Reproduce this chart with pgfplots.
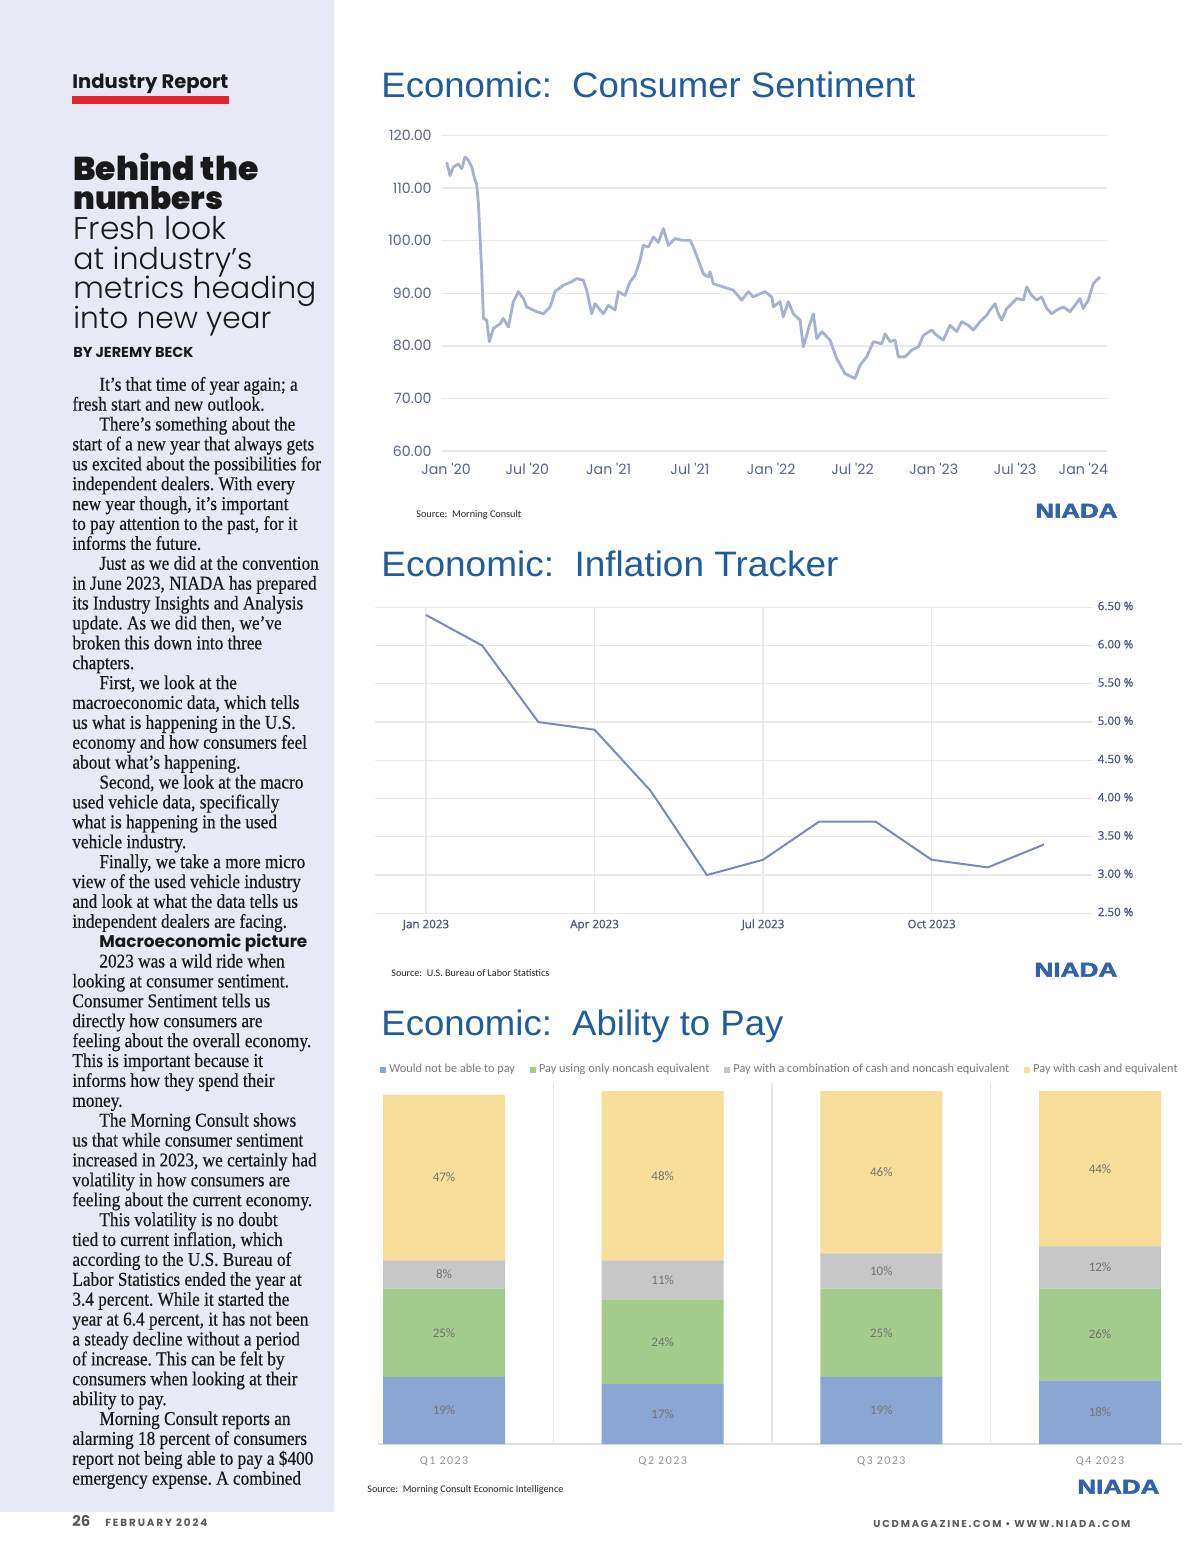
\documentclass[border=0pt]{standalone}
\usepackage{fontspec}
\usepackage{graphicx}
\usepackage{pgfplots}
\pgfplotsset{compat=1.18}

\setmainfont{Liberation Serif}
\newfontfamily\bodyfont{Liberation Serif}[FakeStretch=0.88, FakeBold=0.4]
\newfontfamily\pop{Poppins}
\newfontfamily\popblack{Poppins Black}
\newfontfamily\poplight{Poppins Light}
\newfontfamily\popsp{Poppins}[LetterSpace=18]
\newfontfamily\lsans{Liberation Sans}
\newfontfamily\niadafont{Liberation Sans}[BoldFeatures={FakeBold=2.5}]
\newfontfamily\carl{Carlito}
\newfontfamily\carlsp{Carlito}[LetterSpace=12]
\newfontfamily\opens{Open Sans}[FakeBold=0.6]

\definecolor{panel}{RGB}{231,234,244}
\definecolor{titleblue}{RGB}{31,92,155}
\definecolor{niada}{RGB}{50,98,170}
\definecolor{redbar}{RGB}{226,35,45}
\definecolor{sentline}{RGB}{166,177,207}
\definecolor{inflline}{RGB}{122,138,180}
\definecolor{ticktxt}{RGB}{88,102,138}
\definecolor{ticktxtb}{RGB}{70,84,118}
\definecolor{gridc}{RGB}{234,234,237}
\definecolor{cblue}{RGB}{137,167,210}
\definecolor{cgreen}{RGB}{163,204,141}
\definecolor{cgray}{RGB}{199,199,199}
\definecolor{cyellow}{RGB}{248,222,152}
\definecolor{bodytxt}{RGB}{25,25,25}
\definecolor{foot}{RGB}{90,90,90}

\begin{document}
\frenchspacing
\begin{tikzpicture}
\fill[white] (0,0) rectangle (600pt,-779pt);
\path[use as bounding box] (0,0) rectangle (600pt,-779pt);

% left column
\fill[panel] (0,0) rectangle (167pt,-756pt);
\node[anchor=base west,inner sep=0pt,text=bodytxt] at (36pt,-44.5pt) {\resizebox{78pt}{!}{\pop\bfseries Industry Report}};
\fill[redbar] (36pt,-48pt) rectangle (114.5pt,-52pt);
\node[anchor=base west,inner sep=0pt,text=bodytxt] at (36.5pt,-90pt) {\resizebox{92.5pt}{!}{\popblack Behind the}};
\node[anchor=base west,inner sep=0pt,text=bodytxt] at (36.5pt,-104.5pt) {\resizebox{75pt}{!}{\popblack numbers}};
\node[anchor=base west,inner sep=0pt,text=bodytxt] at (36.5pt,-119.5pt) {\resizebox{76.5pt}{!}{\poplight Fresh look}};
\node[anchor=base west,inner sep=0pt,text=bodytxt] at (36.5pt,-134.5pt) {\resizebox{89.5pt}{!}{\poplight at industry’s}};
\node[anchor=base west,inner sep=0pt,text=bodytxt] at (36.5pt,-149pt) {\resizebox{121.5pt}{!}{\poplight metrics heading}};
\node[anchor=base west,inner sep=0pt,text=bodytxt] at (36.5pt,-164pt) {\resizebox{99pt}{!}{\poplight into new year}};
\node[anchor=base west,inner sep=0pt,text=bodytxt] at (36.5pt,-178.5pt) {\resizebox{60pt}{!}{\pop\bfseries BY JEREMY BECK}};

\foreach \ind/\t [count=\i] in {
1/{It’s that time of year again; a},
0/{fresh start and new outlook.},
1/{There’s something about the},
0/{start of a new year that always gets},
0/{us excited about the possibilities for},
0/{independent dealers. With every},
0/{new year though, it’s important},
0/{to pay attention to the past, for it},
0/{informs the future.},
1/{Just as we did at the convention},
0/{in June 2023, NIADA has prepared},
0/{its Industry Insights and Analysis},
0/{update. As we did then, we’ve},
0/{broken this down into three},
0/{chapters.},
1/{First, we look at the},
0/{macroeconomic data, which tells},
0/{us what is happening in the U.S.},
0/{economy and how consumers feel},
0/{about what’s happening.},
1/{Second, we look at the macro},
0/{used vehicle data, specifically},
0/{what is happening in the used},
0/{vehicle industry.},
1/{Finally, we take a more micro},
0/{view of the used vehicle industry},
0/{and look at what the data tells us},
0/{independent dealers are facing.},
1/{\resizebox{104pt}{!}{\pop\bfseries Macroeconomic picture}},
1/{2023 was a wild ride when},
0/{looking at consumer sentiment.},
0/{Consumer Sentiment tells us},
0/{directly how consumers are},
0/{feeling about the overall economy.},
0/{This is important because it},
0/{informs how they spend their},
0/{money.},
1/{The Morning Consult shows},
0/{us that while consumer sentiment},
0/{increased in 2023, we certainly had},
0/{volatility in how consumers are},
0/{feeling about the current economy.},
1/{This volatility is no doubt},
0/{tied to current inflation, which},
0/{according to the U.S. Bureau of},
0/{Labor Statistics ended the year at},
0/{3.4 percent. While it started the},
0/{year at 6.4 percent, it has not been},
0/{a steady decline without a period},
0/{of increase. This can be felt by},
0/{consumers when looking at their},
0/{ability to pay.},
1/{Morning Consult reports an},
0/{alarming 18 percent of consumers},
0/{report not being able to pay a \$400},
0/{emergency expense. A combined}}
{\node[anchor=base west,inner sep=0pt,text=bodytxt,font=\bodyfont\fontsize{9.8}{10}\selectfont\frenchspacing]
   at ({36pt+13.5pt*\ind},{-195.35pt-9.945pt*(\i-1)}) {\t};}

% footers
\node[anchor=base west,inner sep=0pt,text=foot] at (36pt,-763pt) {\resizebox{9pt}{!}{\pop\bfseries 26}};
\node[anchor=base west,inner sep=0pt,text=foot] at (52.5pt,-763pt) {\resizebox{51pt}{!}{\popsp\bfseries FEBRUARY 2024}};
\node[anchor=base west,inner sep=0pt,text=foot] at (436.5pt,-763.5pt) {\resizebox{128.5pt}{!}{\popsp\bfseries UCDMAGAZINE.COM • WWW.NIADA.COM}};

% chart titles, sources, logos
\node[anchor=base west,inner sep=0pt,text=titleblue] at (190.5pt,-48.65pt) {\resizebox{267pt}{12.8pt}{\lsans Economic:\ \ Consumer Sentiment}};
\node[anchor=base west,inner sep=0pt,text=titleblue] at (190.5pt,-288.15pt) {\resizebox{228.5pt}{12.8pt}{\lsans Economic:\ \ Inflation Tracker}};
\node[anchor=base west,inner sep=0pt,text=titleblue] at (190.5pt,-517.65pt) {\resizebox{201pt}{12.8pt}{\lsans Economic:\ \ Ability to Pay}};

\node[anchor=base west,inner sep=0pt,text=black!85] at (208pt,-258.5pt) {\resizebox{52.5pt}{!}{\carl Source:\ \ Morning Consult}};
\node[anchor=base west,inner sep=0pt,text=black!85] at (195.5pt,-488pt) {\resizebox{79pt}{!}{\carl Source:\ \ U.S. Bureau of Labor Statistics}};
\node[anchor=base west,inner sep=0pt,text=black!85] at (183.5pt,-746pt) {\resizebox{98pt}{!}{\carl Source:\ \ Morning Consult Economic Intelligence}};

\node[anchor=base west,inner sep=0pt,text=niada] at (517.5pt,-258.85pt) {\resizebox{41pt}{6.9pt}{\niadafont\bfseries NIADA}};
\node[anchor=base west,inner sep=0pt,text=niada] at (517pt,-488.35pt) {\resizebox{41.5pt}{6.9pt}{\niadafont\bfseries NIADA}};
\node[anchor=base west,inner sep=0pt,text=niada] at (538.5pt,-746.85pt) {\resizebox{41pt}{6.9pt}{\niadafont\bfseries NIADA}};

% chart 1: consumer sentiment
\begin{axis}[
  at={(220.85pt,-225.5pt)}, anchor=south west, scale only axis,
  width=332.5pt, height=157.75pt,
  xmin=-0.32, xmax=48.76, ymin=60, ymax=120,
  axis line style={draw=none}, major tick length=0pt,
  ytick={60,70,80,90,100,110,120},
  yticklabels={60.00,70.00,80.00,90.00,100.00,110.00,120.00},
  yticklabel style={xshift=-1.5pt},
  xtick={0,6,12,18,24,30,36,42},
  xticklabels={Jan '20,Jul '20,Jan '21,Jul '21,Jan '22,Jul '22,Jan '23,Jul '23},
  xticklabel style={yshift=-2.5pt},
  extra x ticks={48}, extra x tick labels={Jan '24},
  extra x tick style={xticklabel style={xshift=-6.5pt}},
  ymajorgrids, grid style={draw=gridc, line width=0.7pt},
  tick label style={font=\pop\fontsize{7.1}{8}\selectfont, text=ticktxt},
]
\addplot[sentline, line width=1.4pt, line join=round, mark=none] coordinates {
(0.05,114.9) (0.30,112.4) (0.54,114.0) (0.91,114.6) (1.16,113.7) (1.40,115.9)
(1.65,115.3) (1.90,114.0) (2.14,111.5) (2.26,110.8) (2.39,107.0) (2.63,94.4)
(2.76,85.2) (3.00,84.9) (3.20,80.8) (3.49,83.3) (3.99,84.2) (4.23,85.2)
(4.60,83.6) (4.97,88.4) (5.34,90.3) (5.71,89.0) (5.95,87.4) (6.69,86.5)
(7.18,86.1) (7.68,87.4) (8.04,90.3) (8.66,91.5) (9.27,92.2) (9.65,92.8)
(10.13,92.5) (10.38,90.6) (10.75,86.1) (11.00,88.0) (11.61,86.1) (11.98,87.7)
(12.47,86.8) (12.72,90.3) (13.21,89.6) (13.58,92.2) (13.95,93.4) (14.32,96.3)
(14.56,99.1) (14.93,98.8) (15.30,100.7) (15.67,99.7) (16.04,102.3) (16.41,99.1)
(16.90,100.4) (17.39,100.1) (18.01,100.1) (18.25,98.8) (18.62,96.3) (18.99,93.7)
(19.36,93.1) (19.48,94.1) (19.73,91.8) (20.47,91.2) (21.20,90.6) (21.82,88.7)
(22.31,90.3) (22.68,89.3) (23.17,89.9) (23.54,90.3) (24.04,89.3) (24.16,87.4)
(24.65,88.4) (24.89,85.5) (25.26,88.4) (25.63,86.1) (26.13,84.9) (26.37,79.8)
(26.86,84.2) (27.11,86.1) (27.36,81.4) (27.73,82.7) (28.34,81.1) (28.83,77.6)
(29.45,74.7) (30.18,73.8) (30.55,76.3) (31.05,77.9) (31.54,80.8) (32.15,80.4)
(32.40,82.3) (32.77,80.8) (33.14,81.1) (33.38,77.9) (33.87,77.9) (34.37,79.2)
(34.86,79.8) (35.23,82.0) (35.84,83.0) (36.21,82.0) (36.70,81.1) (37.20,83.9)
(37.69,82.7) (38.06,84.6) (38.55,83.9) (38.92,83.0) (39.41,84.6) (39.90,85.8)
(40.15,86.8) (40.52,88.0) (40.76,86.1) (41.01,84.9) (41.38,87.1) (41.75,88.0)
(42.12,89.0) (42.61,88.7) (42.86,91.2) (43.22,89.6) (43.59,88.7) (43.96,89.3)
(44.33,87.1) (44.70,86.1) (45.07,86.8) (45.56,87.4) (46.05,86.5) (46.42,87.7)
(46.79,89.0) (47.03,87.1) (47.40,88.7) (47.77,91.8) (48.02,92.5) (48.27,93.1)
};
\end{axis}

% chart 2: inflation tracker
\begin{axis}[
  at={(187.5pt,-456.65pt)}, anchor=south west, scale only axis,
  width=358.35pt, height=153pt,
  xmin=-0.908, xmax=11.85, ymin=2.5, ymax=6.5,
  axis line style={draw=none}, major tick length=0pt,
  ytick={2.5,3,3.5,4,4.5,5,5.5,6,6.5},
  yticklabels={2.50 \%,3.00 \%,3.50 \%,4.00 \%,4.50 \%,5.00 \%,5.50 \%,6.00 \%,6.50 \%},
  yticklabel pos=right,
  yticklabel style={anchor=west, xshift=-0.5pt},
  xtick={0,3,6,9},
  xticklabels={Jan 2023,Apr 2023,Jul 2023,Oct 2023},
  typeset ticklabels with strut,
  xticklabel style={yshift=1pt},
  grid=major, grid style={draw=gridc, line width=0.6pt},
  tick label style={font=\opens\fontsize{5.8}{7}\selectfont, text=ticktxtb},
]
\addplot[inflline, line width=1pt, mark=none] coordinates {
(0,6.4) (1,6.0) (2,5.0) (3,4.9) (4,4.1) (5,3.0)
(6,3.2) (7,3.7) (8,3.7) (9,3.2) (10,3.1) (11,3.4)
};
\end{axis}

% chart 3: ability to pay
\begin{axis}[
  at={(189pt,-722pt)}, anchor=south west, scale only axis,
  width=402pt, height=180.5pt,
  xmin=-0.302, xmax=3.375, ymin=0, ymax=102.27,
  ybar stacked, bar width=61pt,
  axis x line=bottom, axis y line=none,
  x axis line style={-, draw=gray!25, line width=0.6pt},
  major tick length=0pt,
  xtick={0,1,2,3},
  xticklabels={Q1 2023,Q2 2023,Q3 2023,Q4 2023},
  xticklabel style={font=\carlsp\fontsize{6}{7}\selectfont, text=gray!85, yshift=-3pt},
  extra x ticks={0.5,1.5,2.5}, extra x tick labels={},
  extra x tick style={grid=major, major grid style={draw=gray!18, line width=0.6pt}},
  legend columns=4,
  legend style={at={(axis description cs:0,1)}, anchor=west, xshift=1pt, yshift=6.5pt,
    draw=none, fill=none, inner sep=0pt,
    font=\carl\fontsize{6.15}{7}\selectfont, text=gray!95!black,
    nodes={inner xsep=1.5pt},
    /tikz/every even column/.append style={column sep=6pt}},
  legend image code/.code={\fill[#1] (0pt,-1.6pt) rectangle (3pt,1.6pt);},
]
\addplot[fill=cblue, draw=none] coordinates {(0,19) (1,17) (2,19) (3,18)};
\addplot[fill=cgreen, draw=none] coordinates {(0,25) (1,24) (2,25) (3,26)};
\addplot[fill=cgray, draw=none] coordinates {(0,8) (1,11) (2,10) (3,12)};
\addplot[fill=cyellow, draw=none] coordinates {(0,47) (1,48) (2,46) (3,44)};
\legend{Would not be able to pay, Pay using only noncash equivalent, Pay with a combination of cash and noncash equivalent, Pay with cash and equivalent}
\end{axis}

% segment labels of chart 3
\begin{axis}[
  at={(189pt,-722pt)}, anchor=south west, scale only axis,
  width=402pt, height=180.5pt,
  xmin=-0.302, xmax=3.375, ymin=0, ymax=102.27,
  hide axis,
]
\addplot[draw=none, mark=none, nodes near coords, point meta=explicit symbolic,
  nodes near coords align=center,
  every node near coord/.append style={font=\carl\fontsize{6.5}{7}\selectfont, text=gray!90!black}]
  coordinates {
  (0,9.5) [19\%] (0,31.5) [25\%] (0,48) [8\%] (0,75.5) [47\%]
  (1,8.5) [17\%] (1,29) [24\%] (1,46.5) [11\%] (1,76) [48\%]
  (2,9.5) [19\%] (2,31.5) [25\%] (2,49) [10\%] (2,77) [46\%]
  (3,9) [18\%] (3,31) [26\%] (3,50) [12\%] (3,78) [44\%]
  };
\end{axis}
\end{tikzpicture}
\end{document}
